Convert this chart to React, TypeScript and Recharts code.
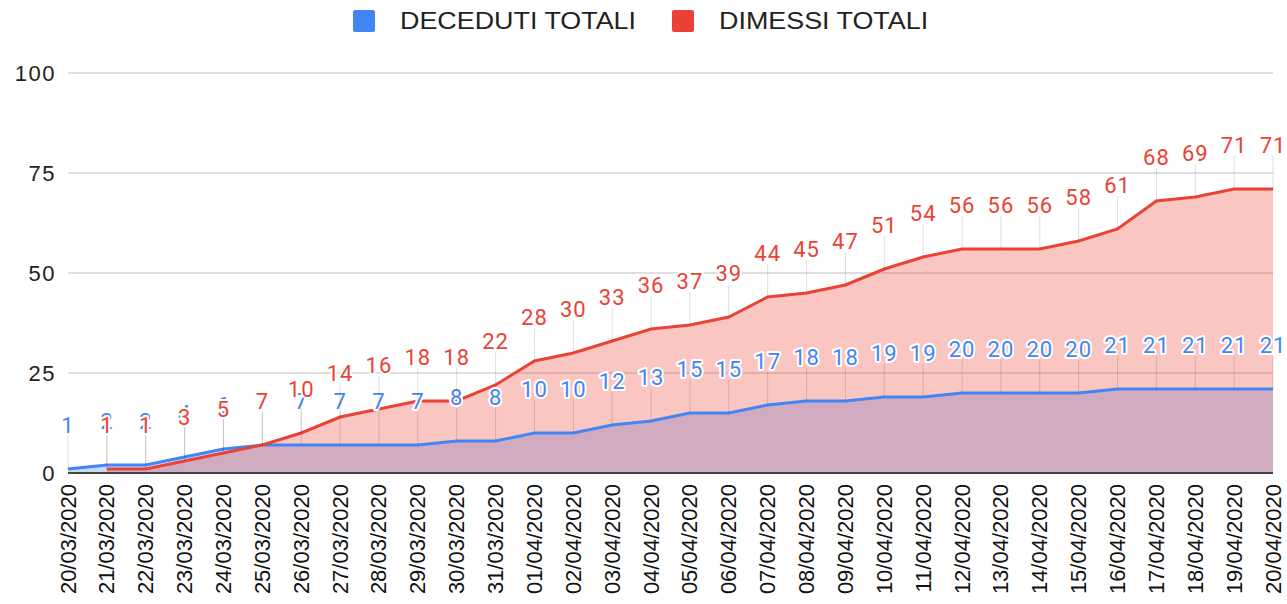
import React from "react";
import { ComposedChart, Area, Line, XAxis, YAxis, CartesianGrid, LabelList } from "recharts";

const dates = [
  "20/03/2020", "21/03/2020", "22/03/2020", "23/03/2020", "24/03/2020", "25/03/2020",
  "26/03/2020", "27/03/2020", "28/03/2020", "29/03/2020", "30/03/2020", "31/03/2020",
  "01/04/2020", "02/04/2020", "03/04/2020", "04/04/2020", "05/04/2020", "06/04/2020",
  "07/04/2020", "08/04/2020", "09/04/2020", "10/04/2020", "11/04/2020", "12/04/2020",
  "13/04/2020", "14/04/2020", "15/04/2020", "16/04/2020", "17/04/2020", "18/04/2020",
  "19/04/2020", "20/04/2020",
];

const deceduti = [
  1, 2, 2, 4, 6, 7, 7, 7, 7, 7, 8, 8,
  10, 10, 12, 13, 15, 15, 17, 18, 18, 19, 19, 20, 20, 20, 20, 21, 21, 21, 21, 21,
];

const dimessi = [
  null, 1, 1, 3, 5, 7, 10, 14, 16, 18, 18, 22,
  28, 30, 33, 36, 37, 39, 44, 45, 47, 51, 54, 56, 56, 56, 58, 61, 68, 69, 71, 71,
];

const yTicks = [0, 25, 50, 75, 100];

const BLUE = "#4285F4";
const RED = "#EA4335";

const data = dates.map((d, i) => ({ date: d, deceduti: deceduti[i], dimessi: dimessi[i] }));

// value label with a thin stem down to the point
const makeLabel = (color: string) => (props: any) => {
  const { x, y, value } = props;
  if (value == null || x == null || y == null) return null;
  return (
    <g>
      <line x1={x} x2={x} y1={y} y2={y - 33} stroke="#000" strokeOpacity={0.13} strokeWidth={1} />
      <text
        x={x}
        y={y - 44}
        textAnchor="middle"
        dominantBaseline="central"
        fill={color}
        stroke="#fff"
        strokeWidth={4}
        strokeLinejoin="round"
        paintOrder="stroke"
        fontSize={22}
        letterSpacing={1}
        fontFamily="Roboto, sans-serif"
      >
        {value}
      </text>
    </g>
  );
};

const DateTick = (props: any) => {
  const { x, y, payload } = props;
  return (
    <text
      x={x}
      y={y}
      transform={`rotate(-90, ${x}, ${y})`}
      textAnchor="end"
      dominantBaseline="central"
      fontSize={22}
      fontFamily="Arial, 'Liberation Sans', sans-serif"
      fill="#111"
    >
      {payload.value}
    </text>
  );
};

function Legend() {
  const item = (color: string, text: string, left: number) => (
    <div style={{ position: "absolute", left, top: 9, display: "flex", alignItems: "center", height: 24 }}>
      <div style={{ width: 22, height: 22, background: color, borderRadius: 2 }} />
      <span
        style={{
          marginLeft: 25,
          fontSize: 24,
          color: "#222",
          display: "inline-block",
          transform: "scaleX(1.12)",
          transformOrigin: "left center",
          whiteSpace: "nowrap",
        }}
      >
        {text}
      </span>
    </div>
  );
  return (
    <div style={{ position: "absolute", top: 0, left: 0, fontFamily: "Arial, 'Liberation Sans', sans-serif" }}>
      {item(BLUE, "DECEDUTI TOTALI", 353)}
      {item(RED, "DIMESSI TOTALI", 672)}
    </div>
  );
}

export default function App() {
  return (
    <div style={{ position: "absolute", left: 0, top: 0, width: 1287, height: 604, background: "#fff" }}>
      <Legend />
      <ComposedChart width={1287} height={604} data={data} margin={{ top: 73, right: 14, left: 0, bottom: 0 }}>
        <CartesianGrid vertical={false} stroke="#d4d4d4" strokeWidth={1.5} />
        <XAxis
          dataKey="date"
          scale="point"
          interval={0}
          height={131}
          tickLine={false}
          tickMargin={5}
          axisLine={{ stroke: "#444", strokeWidth: 2 }}
          tick={<DateTick />}
        />
        <YAxis
          domain={[0, 100]}
          ticks={yTicks}
          width={68}
          axisLine={false}
          tickLine={false}
          tickMargin={6}
          tick={{ fontSize: 22, fill: "#222", letterSpacing: 1.5, fontFamily: "Arial, 'Liberation Sans', sans-serif" }}
        />
        <Area dataKey="deceduti" type="linear" stroke="none" fill={BLUE} fillOpacity={0.3} isAnimationActive={false} />
        <Area dataKey="dimessi" type="linear" stroke="none" fill={RED} fillOpacity={0.3} isAnimationActive={false} />
        <Line dataKey="deceduti" type="linear" stroke={BLUE} strokeWidth={3} dot={false} isAnimationActive={false}>
          <LabelList dataKey="deceduti" content={makeLabel(BLUE)} />
        </Line>
        <Line dataKey="dimessi" type="linear" stroke={RED} strokeWidth={3} dot={false} isAnimationActive={false}>
          <LabelList dataKey="dimessi" content={makeLabel(RED)} />
        </Line>
      </ComposedChart>
    </div>
  );
}
